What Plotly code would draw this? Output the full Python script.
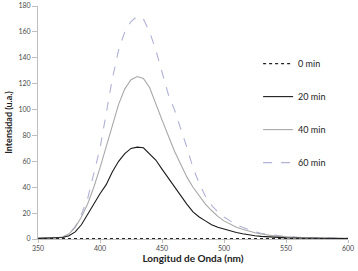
import plotly.graph_objects as go

wavelength = list(range(350, 605, 5))

int_0min = [0.3] * len(wavelength)

int_20min = [0.5, 0.6, 0.7, 0.8, 1.2, 2.5, 5.5, 11, 19, 28, 35, 42, 52, 60, 66, 70, 71, 70.5, 66, 61,
             54, 47, 40, 33, 27, 21, 17, 14, 11, 9, 7.5, 6, 5, 4, 3, 2.5, 2, 1.6, 1.3, 1.1,
             0.9, 0.8, 0.7, 0.65, 0.6, 0.55, 0.5, 0.5, 0.45, 0.45, 0.4]

int_40min = [0.5, 0.6, 0.8, 1, 1.5, 4, 9, 17, 27, 40, 55, 72, 88, 104, 116, 123, 125.5, 124, 117, 104,
             92, 80, 68, 58, 48, 40, 33, 27, 22, 17.5, 14, 11.5, 9, 7.5, 6, 4.8, 3.8, 3, 2.4, 2,
             1.6, 1.3, 1.1, 1, 0.9, 0.8, 0.75, 0.7, 0.65, 0.6, 0.6]

int_60min = [0.5, 0.6, 0.8, 1, 1.5, 4, 9.5, 19, 31, 50, 70, 97, 124, 146, 160, 168, 172, 170, 160, 146,
             128, 112, 100, 86, 71, 55, 43, 33, 26, 21, 17, 14, 11, 9, 7, 5.5, 4.5, 3.6, 3, 2.5,
             2, 1.7, 1.4, 1.2, 1, 0.9, 0.85, 0.8, 0.75, 0.7, 0.7]

series_names = ["0 min", "20 min", "40 min", "60 min"]
y_ticks = [0, 20, 40, 60, 80, 100, 120, 140, 160, 180]
x_ticks = [350, 400, 450, 500, 550, 600]

FONT = "Lato, Open Sans, sans-serif"

styles = {
    "0 min": dict(color="#222222", width=1.4, dash="dot"),
    "20 min": dict(color="#1a1a1a", width=1.1, dash="solid"),
    "40 min": dict(color="#a8a8a8", width=1.1, dash="solid"),
    "60 min": dict(color="#b0b2d6", width=1.1, dash="dash"),
}
values = {"0 min": int_0min, "20 min": int_20min, "40 min": int_40min, "60 min": int_60min}

fig = go.Figure()
# draw from back to front so the 0 min line stays on top
for rank, name in reversed(list(enumerate(series_names))):
    fig.add_trace(go.Scatter(x=wavelength, y=values[name], mode="lines", name=name,
                             line=styles[name], legendgroup=name, legendrank=rank + 1))

fig.update_layout(
    width=358, height=271,
    margin=dict(l=38, r=10, t=6, b=32),
    paper_bgcolor="white", plot_bgcolor="white",
    font=dict(family=FONT, size=8, color="#404040"),
    showlegend=True,
    legend=dict(x=0.71, y=0.815, xanchor="left", yanchor="top",
                traceorder="grouped", tracegroupgap=14,
                font=dict(family=FONT, size=9, color="#222222"),
                itemwidth=30, bgcolor="rgba(0,0,0,0)"),
    xaxis=dict(range=[350, 600], tickvals=x_ticks, ticks="outside", ticklen=3,
               tickcolor="#bfbfbf", showline=True, linecolor="#bfbfbf", linewidth=1,
               showgrid=False, zeroline=False, automargin=False,
               tickfont=dict(size=7, color="#4a4a4a"),
               title=dict(text="<b>Longitud de Onda (nm)</b>", standoff=2,
                          font=dict(size=10, color="#222222"))),
    yaxis=dict(range=[0, 180], tickvals=y_ticks, ticks="outside", ticklen=5,
               tickcolor="#bfbfbf", showline=True, linecolor="#bfbfbf", linewidth=1,
               showgrid=False, zeroline=False, automargin=False,
               tickfont=dict(size=7, color="#4a4a4a"),
               title=dict(text="<b>Intensidad (u.a.)</b>", standoff=4,
                          font=dict(size=9, color="#222222"))),
)

fig.write_html("out.html", config={"displayModeBar": False},
               post_script="document.body.style.margin='0';")
